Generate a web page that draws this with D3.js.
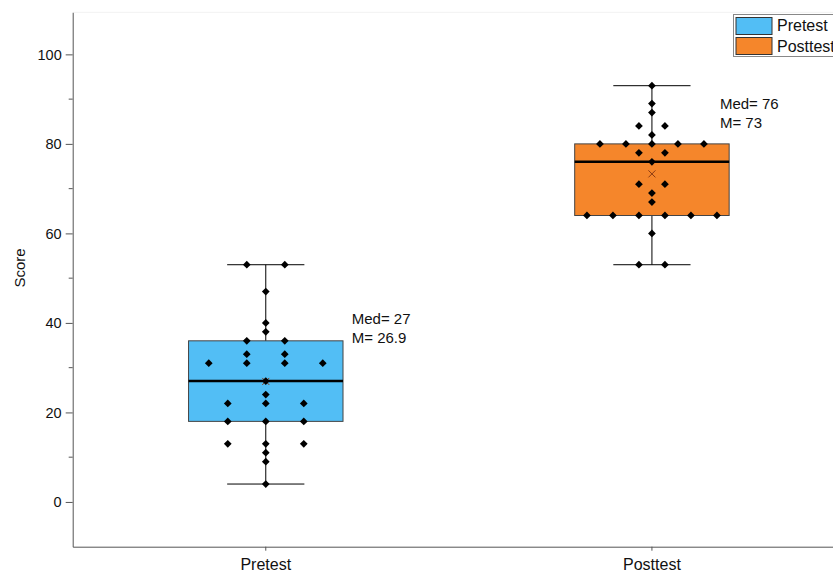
<!DOCTYPE html>
<html><head><meta charset="utf-8">
<script src="https://cdn.jsdelivr.net/npm/d3@7"></script>
<style>html,body{margin:0;padding:0;background:#fff;}svg{display:block;font-family:"Liberation Sans",Arial,sans-serif;}</style>
</head><body>
<script>
// ---- data ----
const categories = ["Pretest", "Posttest"];
const pretestScores = [53,53,47,40,38,36,36,33,33,31,31,31,31,27,24,22,22,22,18,18,18,13,13,13,11,9,4];
const posttestScores = [93,89,87,84,84,82,80,80,80,80,80,78,78,76,71,71,69,67,64,64,64,64,64,64,60,53,53];
const q1Values = [18, 64];
const q3Values = [36, 80];
const medianLabels = ["Med= 27", "Med= 76"];
const meanLabels = ["M= 26.9", "M= 73"];
const annotValue = [39.8, 87.8];
const yTicks = [0, 20, 40, 60, 80, 100];
const yMinorTicks = [10, 30, 50, 70, 90];
const colors = ["#52BEF5", "#F5862B"];

const W = 833, H = 576;
const svg = d3.select("body").append("svg").attr("width", W).attr("height", H);

const y = d3.scaleLinear().domain([-10, 109.4]).range([546.7, 12.3]);
const x = d3.scaleBand().domain(categories).range([72.7, 845]).padding(0);
const bw = x.bandwidth() * 0.4;
const swarmStep = [38, 26];
const annotDx = [86, 68];

// faint top border
svg.append("line").attr("x1", 72.7).attr("x2", W).attr("y1", 12.3).attr("y2", 12.3)
  .attr("stroke", "#f2f2f2").attr("stroke-width", 1);

const groups = [pretestScores, posttestScores];

groups.forEach((vals, gi) => {
  const cat = categories[gi];
  const cx = x(cat) + x.bandwidth() / 2;
  const q1 = q1Values[gi], q3 = q3Values[gi], med = d3.median(vals);
  const mn = d3.min(vals), mx = d3.max(vals), mean = d3.mean(vals);
  const g = svg.append("g");
  // whisker
  g.append("line").attr("x1", cx).attr("x2", cx).attr("y1", y(mn)).attr("y2", y(mx))
    .attr("stroke", "#000").attr("stroke-width", 1);
  [mn, mx].forEach(v => g.append("line").attr("x1", cx - bw / 4).attr("x2", cx + bw / 4)
    .attr("y1", y(v)).attr("y2", y(v)).attr("stroke", "#000").attr("stroke-width", 1));
  // box
  g.append("rect").attr("x", cx - bw / 2).attr("width", bw).attr("y", y(q3)).attr("height", y(q1) - y(q3))
    .attr("fill", colors[gi]).attr("stroke", "#444").attr("stroke-width", 1);
  g.append("line").attr("x1", cx - bw / 2).attr("x2", cx + bw / 2).attr("y1", y(med)).attr("y2", y(med))
    .attr("stroke", "#000").attr("stroke-width", 2.5);
  // mean marker
  const mk = 3.5;
  g.append("path").attr("d", `M${cx - mk},${y(mean) - mk}L${cx + mk},${y(mean) + mk}M${cx - mk},${y(mean) + mk}L${cx + mk},${y(mean) - mk}`)
    .attr("stroke", "#8a3a12").attr("stroke-width", 1);
  // points (beeswarm: equal values spread horizontally)
  const counts = d3.rollup(vals, v => v.length, d => d);
  const seen = new Map();
  vals.forEach(v => {
    const n = counts.get(v);
    const i = seen.get(v) || 0; seen.set(v, i + 1);
    const px = cx + (i - (n - 1) / 2) * swarmStep[gi];
    g.append("path").attr("d", d3.symbol(d3.symbolSquare, 30)())
      .attr("transform", `translate(${px},${y(v)}) rotate(45)`).attr("fill", "#000");
  });
  // annotation
  const ax = cx + annotDx[gi];
  g.append("text").attr("x", ax).attr("y", y(annotValue[gi])).attr("font-size", 15).attr("fill", "#111").text(medianLabels[gi]);
  g.append("text").attr("x", ax).attr("y", y(annotValue[gi]) + 18.8).attr("font-size", 15).attr("fill", "#111").text(meanLabels[gi]);
});

// y axis
const yAxis = svg.append("g").attr("transform", "translate(72.7,0)")
  .call(d3.axisLeft(y).tickValues(yTicks).tickSize(7).tickPadding(4).tickSizeOuter(0));
yAxis.select(".domain").attr("stroke", "#555");
yAxis.selectAll(".tick line").attr("stroke", "#555");
yAxis.selectAll("text").attr("font-size", 14.5).attr("fill", "#111").attr("font-family", "Liberation Sans, Arial, sans-serif");
svg.append("g").selectAll("line").data(yMinorTicks).join("line")
  .attr("x1", 68.7).attr("x2", 72.7).attr("y1", d => y(d)).attr("y2", d => y(d)).attr("stroke", "#555");

// x axis
const xAxis = svg.append("g").attr("transform", `translate(0,${y(-10)})`)
  .call(d3.axisBottom(x).tickSize(4).tickPadding(8).tickSizeOuter(0));
xAxis.select(".domain").attr("stroke", "#555");
xAxis.selectAll(".tick line").attr("stroke", "#555");
xAxis.selectAll("text").attr("font-size", 16).attr("fill", "#111").attr("font-family", "Liberation Sans, Arial, sans-serif");

// y label
svg.append("text").attr("transform", "translate(25,268) rotate(-90)").attr("text-anchor", "middle")
  .attr("font-size", 15).attr("fill", "#111").text("Score");

// legend
const lg = svg.append("g");
lg.append("rect").attr("x", 733.5).attr("y", 14.5).attr("width", 110).attr("height", 42)
  .attr("fill", "#fff").attr("stroke", "#888").attr("stroke-width", 1);
categories.forEach((c, i) => {
  lg.append("rect").attr("x", 736).attr("y", 17.5 + i * 20).attr("width", 36).attr("height", 17)
    .attr("fill", colors[i]).attr("stroke", "#333").attr("stroke-width", 1);
  lg.append("text").attr("x", 777).attr("y", 31 + i * 21).attr("font-size", 16).attr("fill", "#111").text(c);
});
</script>
</body></html>
